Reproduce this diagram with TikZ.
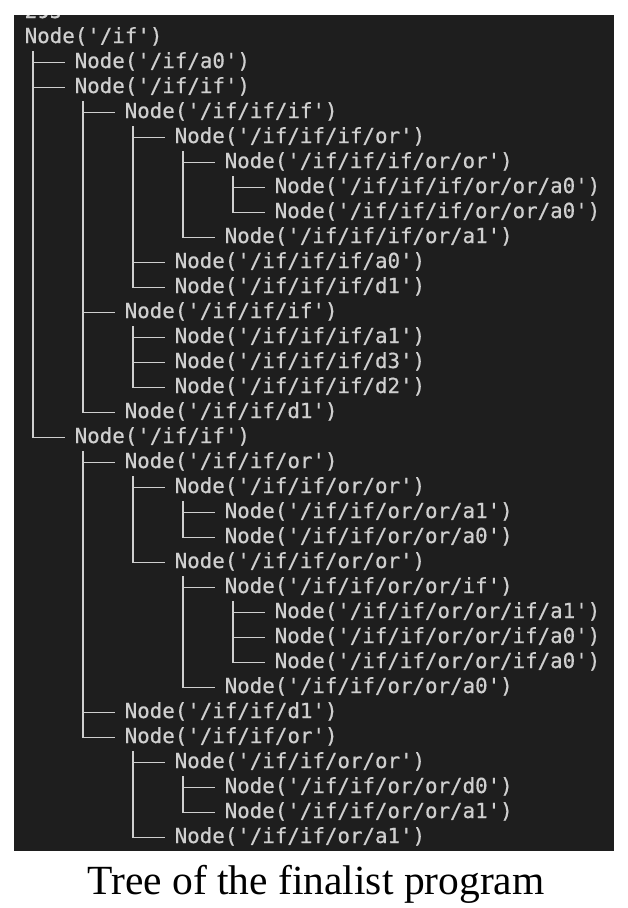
\documentclass[tikz,border=0pt]{standalone}
\usepackage{fontspec}
\setmonofont[FakeBold=0.6]{DejaVu Sans Mono}
\newfontfamily\captionfont{Liberation Serif}
\definecolor{termbg}{HTML}{1E1E1E}
\definecolor{termfg}{HTML}{CFCFCF}
\tikzset{
  entry/.style={anchor=base west, inner sep=0pt, text=termfg,
    font=\ttfamily\fontsize{20.8}{25}\selectfont},
  branch/.style={draw=termfg, line width=1.4pt},
}
\begin{document}
\begin{tikzpicture}[x=1pt, y=-1pt]
 \useasboundingbox (0,0) rectangle (628,908);
 \fill[termbg] (14,15) rectangle (614,851);
 \begin{scope}
  \clip (14,15) rectangle (614,851);
  \node[entry] (count) at (24.5,18) {295};
 \end{scope}
 % one row per line of the tree, (level, row)
 \begin{scope}[shift={(24.5pt,-43pt)}, x=50pt, y=-25pt]
  \node[entry] (n1) at (0,0) {Node('/if')};
  \node[entry] (n2) at (1,1) {Node('/if/a0')};
  \node[entry] (n3) at (1,2) {Node('/if/if')};
  \node[entry] (n4) at (2,3) {Node('/if/if/if')};
  \node[entry] (n5) at (3,4) {Node('/if/if/if/or')};
  \node[entry] (n6) at (4,5) {Node('/if/if/if/or/or')};
  \node[entry] (n7) at (5,6) {Node('/if/if/if/or/or/a0')};
  \node[entry] (n8) at (5,7) {Node('/if/if/if/or/or/a0')};
  \node[entry] (n9) at (4,8) {Node('/if/if/if/or/a1')};
  \node[entry] (n10) at (3,9) {Node('/if/if/if/a0')};
  \node[entry] (n11) at (3,10) {Node('/if/if/if/d1')};
  \node[entry] (n12) at (2,11) {Node('/if/if/if')};
  \node[entry] (n13) at (3,12) {Node('/if/if/if/a1')};
  \node[entry] (n14) at (3,13) {Node('/if/if/if/d3')};
  \node[entry] (n15) at (3,14) {Node('/if/if/if/d2')};
  \node[entry] (n16) at (2,15) {Node('/if/if/d1')};
  \node[entry] (n17) at (1,16) {Node('/if/if')};
  \node[entry] (n18) at (2,17) {Node('/if/if/or')};
  \node[entry] (n19) at (3,18) {Node('/if/if/or/or')};
  \node[entry] (n20) at (4,19) {Node('/if/if/or/or/a1')};
  \node[entry] (n21) at (4,20) {Node('/if/if/or/or/a0')};
  \node[entry] (n22) at (3,21) {Node('/if/if/or/or')};
  \node[entry] (n23) at (4,22) {Node('/if/if/or/or/if')};
  \node[entry] (n24) at (5,23) {Node('/if/if/or/or/if/a1')};
  \node[entry] (n25) at (5,24) {Node('/if/if/or/or/if/a0')};
  \node[entry] (n26) at (5,25) {Node('/if/if/or/or/if/a0')};
  \node[entry] (n27) at (4,26) {Node('/if/if/or/or/a0')};
  \node[entry] (n28) at (2,27) {Node('/if/if/d1')};
  \node[entry] (n29) at (2,28) {Node('/if/if/or')};
  \node[entry] (n30) at (3,29) {Node('/if/if/or/or')};
  \node[entry] (n31) at (4,30) {Node('/if/if/or/or/d0')};
  \node[entry] (n32) at (4,31) {Node('/if/if/or/or/a1')};
  \node[entry] (n33) at (3,32) {Node('/if/if/or/a1')};
 \end{scope}
 % parent -> child branches
 \foreach \p/\c in {n1/n2, n1/n3, n1/n17, n3/n4, n3/n12, n3/n16,
   n4/n5, n4/n10, n4/n11, n5/n6, n5/n9, n6/n7, n6/n8,
   n12/n13, n12/n14, n12/n15, n17/n18, n17/n28, n17/n29,
   n18/n19, n18/n22, n19/n20, n19/n21, n22/n23, n22/n27,
   n23/n24, n23/n25, n23/n26, n29/n30, n29/n33, n30/n31, n30/n32}
  \draw[branch] ([xshift=8.5pt, yshift=-8pt]\p.base west)
   |- ([xshift=-10pt, yshift=5.7pt]\c.base west);
 \node[anchor=base, inner sep=0pt, font=\captionfont\fontsize{41.5}{48}\selectfont]
  (caption) at (316,894) {Tree of the finalist program};
\end{tikzpicture}
\end{document}
